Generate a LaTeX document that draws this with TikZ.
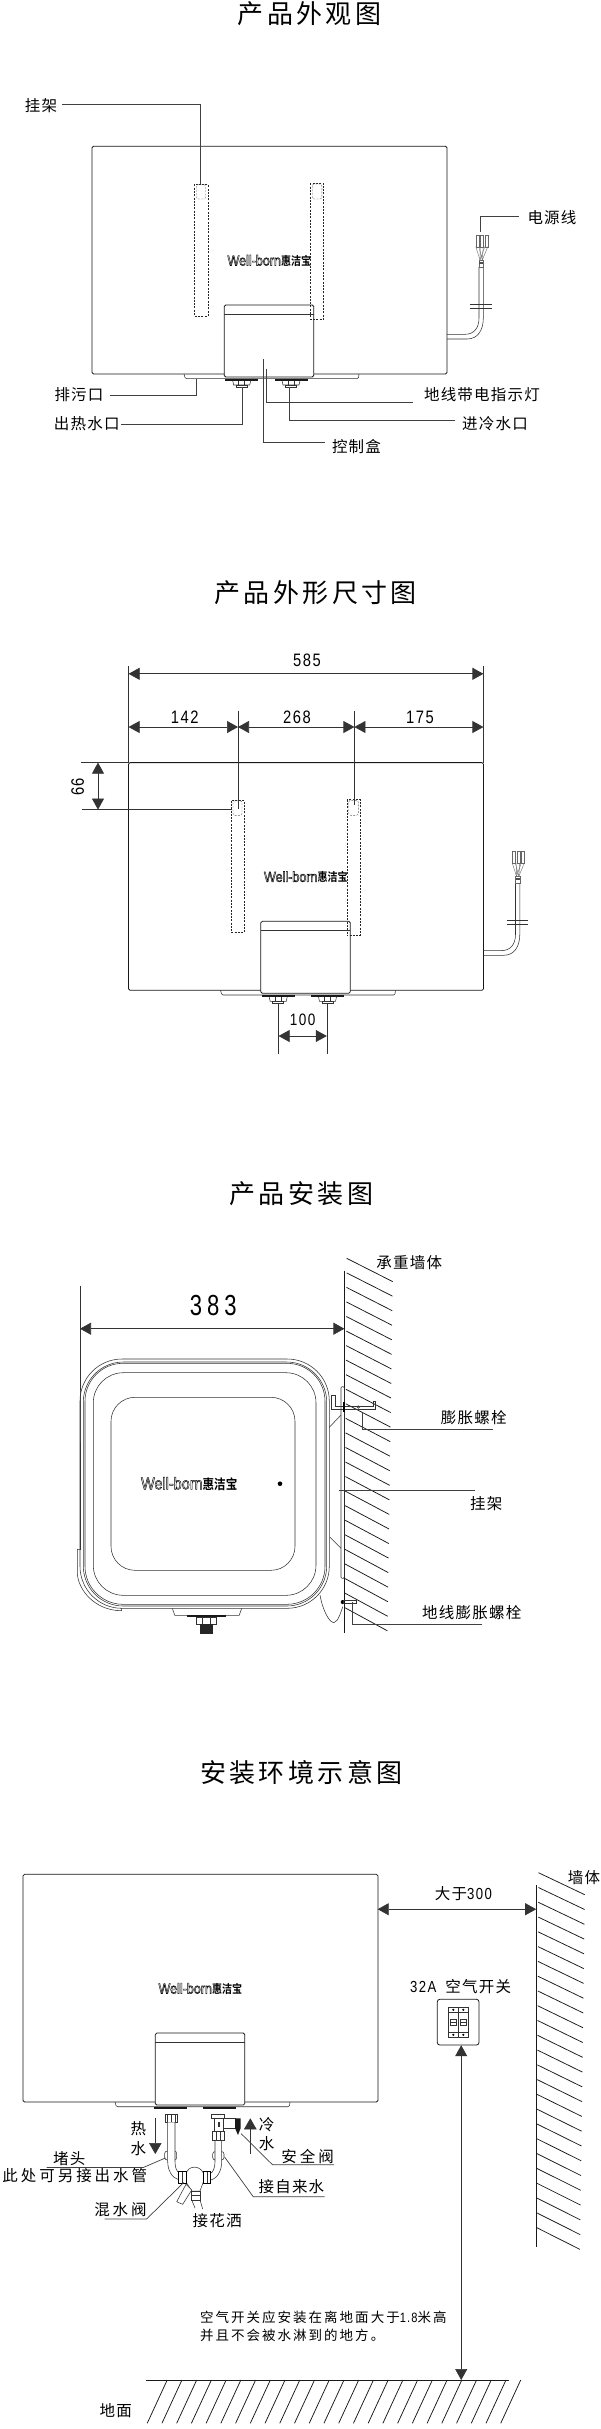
\documentclass[tikz,border=0pt]{standalone}
\usepackage{fontspec}
\usetikzlibrary{arrows.meta}
\setmainfont{Noto Sans CJK SC}
\newfontfamily\ttlf[LetterSpace=13]{Noto Sans CJK SC}
\newfontfamily\lblf[LetterSpace=8]{Noto Sans CJK SC}
\newfontfamily\widef[LetterSpace=19]{Noto Sans CJK SC}
\newfontfamily\notef[LetterSpace=15]{Noto Sans CJK SC}
\newfontfamily\numf[FakeStretch=0.82,LetterSpace=9]{Liberation Sans}
\newfontfamily\numw[FakeStretch=0.76,LetterSpace=17]{Liberation Sans}
\newfontfamily\logof[FakeStretch=0.86]{Liberation Sans}
\newfontfamily\logocn[FakeStretch=0.85]{Noto Sans CJK SC Bold}
\newcommand\logotxt[2]{{\fontsize{#1}{#1}\logof\special{pdf:code 1 Tr 0.45 w}Well-born\special{pdf:code 0 Tr}}{\fontsize{#2}{#2}\logocn 惠洁宝}}
\tikzset{
 ttl/.style={inner sep=0,font=\ttlf\fontsize{26}{26}\selectfont},
 lbl/.style={inner sep=0,font=\lblf\fontsize{15.5}{15.5}\selectfont},
 widelbl/.style={inner sep=0,font=\widef\fontsize{15.5}{15.5}\selectfont},
 notetxt/.style={inner sep=0,anchor=west,font=\notef\fontsize{13.5}{13.5}\selectfont},
 num/.style={inner sep=0,font=\numf\fontsize{18}{18}\selectfont},
 body/.style={line width=.8,black!90},
 thin/.style={line width=.55,black!80},
 faint/.style={line width=.4,black!60},
 lead/.style={line width=.7,black!75},
 dim/.style={line width=.7,black!80,{Triangle[length=11pt,width=12pt]}-{Triangle[length=11pt,width=12pt]}},
 hat/.style={line width=.75,black!90},
 dsh/.style={line width=.55,black!85,dash pattern=on 2pt off 1.3pt},
}
% tank front view, drawn in the coordinates of the first view
\newcommand\tankcore[2]{
 \draw[body,rounded corners=1.5] (92,146.3) rectangle (447,374);
 \draw[thin] (184,374) -- (185,377.5) -- (186.5,378.7) -- (357,378.7) -- (358.5,377.5) -- (359,374);
 \draw[body,fill=white,rounded corners=1.5] (224.3,305) rectangle (313.8,377);
 \draw[thin] (224.3,314.3) -- (313.8,314.3);
 \node[inner sep=0] (logo#1) at (269.3,260.8) {\logotxt{14.6}{11.8}};
 \foreach \c in {241.7,291}{
  \fill[black!90] (\c-16.5+#2,378.7) rectangle (\c+16.5+#2,380.7);
 }
}
\newcommand\tanknuts{
 \foreach \c in {241.7,291}{
  \draw[thin] (\c-9,380.7) -- (\c-8,385) -- (\c+8,385) -- (\c+9,380.7);
  \draw[thin] (\c-5.5,385) rectangle (\c+5.5,387.3);
  \draw[thin] (\c-3,380.7) -- (\c-3,385) (\c+3,380.7) -- (\c+3,385);
 }
}
\newcommand\tankbrackets{
 \draw[dsh] (194.4,184.3) rectangle (207.8,316);
 \draw[faint,dash pattern=on 2pt off 1.3pt,rounded corners=2] (196.5,184.5) rectangle (205.5,199);
 \draw[dsh] (310.4,183.3) rectangle (323.4,319.3);
 \draw[faint,dash pattern=on 2pt off 1.3pt,rounded corners=2] (312.2,184) rectangle (321.8,199);
}
\newcommand\tankcable{
 \draw[thin] (447,334.3) -- (465,334.3) .. controls (474,334.3) and (479,328) .. (479,318) -- (479,267);
 \draw[thin] (447,339) -- (467,339) .. controls (478,339) and (483.3,330) .. (483.3,318) -- (483.3,267);
 \draw[thin] (470,304) -- (491.7,304) (470,308.3) -- (491.7,308.3);
 \draw[faint] (479,260) rectangle (483.3,267);
 \fill[black!70] (479,262) rectangle (483.3,264);
 \foreach \p in {475.8,480.3,484.8}{
  \draw[faint] (\p,235) rectangle (\p+3,246.7);
  \draw[faint] (\p,246.7) -- (480,260) (\p+3,246.7) -- (482.3,260);
 }
}
\begin{document}
\begin{tikzpicture}[x=1pt,y=-1pt]
\useasboundingbox (0,0) rectangle (600,2429);
\fill[white] (0,0) rectangle (600,2429);

%% ---------- view 1
\node[ttl] (t1) at (309.5,14) {产品外观图};
\begin{scope}
 \tankcore{a}{0}\tanknuts\tankbrackets\tankcable
\end{scope}
\node[lbl] (la) at (41,105.5) {挂架};
\node[lbl] (lb) at (552,217.5) {电源线};
\node[lbl] (lc) at (79,394.5) {排污口};
\node[lbl] (ld) at (86.7,424) {出热水口};
\node[lbl] (le) at (482,395) {地线带电指示灯};
\node[lbl] (lf) at (495,424) {进冷水口};
\node[lbl] (lg) at (356.5,446.5) {控制盒};
\coordinate (la1) at (62,104);      \coordinate (la2) at (200.5,184.3);
\coordinate (lb1) at (518.6,216);   \coordinate (lb2) at (480.3,231.7);
\coordinate (lc1) at (109.5,395.7); \coordinate (lc2) at (196.3,378.7);
\coordinate (ld1) at (121,424);     \coordinate (ld2) at (242.6,386.7);
\coordinate (le1) at (413,402.3);   \coordinate (le2) at (266.3,369.3);
\coordinate (lf1) at (455.4,420.7); \coordinate (lf2) at (289.7,386.7);
\coordinate (lg1) at (324.5,442.7); \coordinate (lg2) at (263,359.3);
\foreach \n in {la,lb,lc,ld,le,lf,lg}{\draw[lead] (\n1) -| (\n2);}

%% ---------- view 2
\node[ttl] (t2) at (315.7,593) {产品外形尺寸图};
\begin{scope}[shift={(36.5,616.3)}]
 \tankcore{b}{0}\tanknuts\tankbrackets\tankcable
\end{scope}
\coordinate (dl) at (128.6,673.8); \coordinate (dr) at (483.4,673.8);
\coordinate (m0) at (128.6,727); \coordinate (m1) at (238,727); \coordinate (m2) at (354.4,727); \coordinate (m3) at (483.4,727);
\draw[thin] (128.6,666) -- (128.6,762.6) (483.4,666) -- (483.4,762.6);
\draw[dim] (dl) -- (dr);
\draw[dim] (m0) -- (m1);
\draw[dim] (m1) -- (m2);
\draw[dim] (m2) -- (m3);
\draw[thin] (238,710.6) -- (238,808.9) (354.4,711) -- (354.4,805);
\draw[thin] (81,762.6) -- (128.6,762.6) (82.3,809.6) -- (231.5,809.6);
\coordinate (v1) at (98,762.6); \coordinate (v2) at (98,809.6);
\draw[dim] (v1) -- (v2);
\coordinate (h1) at (278.6,1036); \coordinate (h2) at (326.8,1036);
\draw[thin] (278.6,1004) -- (278.6,1054.4) (326.8,1004) -- (326.8,1054.4);
\draw[dim] (h1) -- (h2);
\node[num] (n585) at (307,660) {585};
\node[num] (n142) at (184.7,717) {142};
\node[num] (n268) at (297,717) {268};
\node[num] (n175) at (420,717) {175};
\node[num,rotate=90] (n66) at (77.7,786.8) {66};
\node[num,font=\numf\fontsize{16.5}{16.5}\selectfont] (n100) at (302.7,1020) {100};

%% ---------- view 3
\node[ttl] (t3) at (301.4,1194) {产品安装图};
\draw[hat] (344.4,1270.7) -- (344.4,1633.3);
\foreach \i in {0,...,24}{
 \pgfmathsetmacro\ya{1258.3+14.55*\i}
 \pgfmathsetmacro\xa{346.7-0.09*\i}
 \pgfmathsetmacro\xb{392.7-0.22*\i}
 \draw[hat] (\xa,\ya) -- (\xb,\ya+23.3);
}
\node[lbl] (w3) at (409.3,1263) {承重墙体};
\node[num,font=\numw\fontsize{29}{29}\selectfont] (n383) at (213.3,1305.3) {383};
\coordinate (s1) at (80,1328.7); \coordinate (s2) at (344.4,1328.7);
\draw[dim] (s1) -- (s2);
\draw[thin] (80,1285.7) -- (80,1390);
\draw[line width=1,black!70] (80,1390) -- (80,1443);
\draw[thin] (80,1443) -- (80,1550);
\draw[thin,rounded corners=42] (80,1359) rectangle (329.3,1608.3);
\draw[thin,rounded corners=40] (83.3,1362) rectangle (326.7,1606);
\draw[thin,rounded corners=38] (85,1363.3) rectangle (325,1604.3);
\draw[thin,rounded corners=30] (93.3,1372.7) rectangle (316,1595.3);
\draw[thin,rounded corners=24] (111,1397.3) rectangle (295,1570.3);
\node[inner sep=0] (logoc) at (189.2,1483.8) {\logotxt{16.8}{13.6}};
\fill[black] (280,1483.7) circle[radius=2.3];
\draw[thin] (80,1549.3) -- (77.3,1549.3) -- (77.3,1573) .. controls (78,1590) and (95,1610.7) .. (121.7,1610.7) -- (121.7,1608);
\draw[thin] (172.3,1608.3) -- (174.8,1615.3) -- (239.2,1615.3) -- (241.7,1608.3);
\fill[black!90] (187.3,1615.3) rectangle (225.7,1617.3);
\draw[thin] (196,1617.3) rectangle (216,1624);
\draw[thin] (202,1617.3) -- (202,1624) (210,1617.3) -- (210,1624);
\fill[black!85] (200,1624) rectangle (212.7,1634);
\draw[thin,rounded corners=1] (341,1386.7) rectangle (344.3,1578.3);
\draw[thin] (329.3,1427.3) -- (341,1415) (330,1537.3) -- (341,1548.3);
\draw[thin] (331.7,1395) -- (331.7,1409.3) -- (375,1409.3) -- (375,1401.7) -- (373.3,1401.7) -- (373.3,1406) -- (335,1406) -- (335,1395) -- cycle;
\draw[thin] (358.3,1407) circle[radius=1.3];
\fill[black] (343,1401.7) rectangle (345,1411.7);
\fill[black] (342.7,1602) circle[radius=2];
\draw[thin] (343,1600.5) rectangle (356.7,1603.5);
\draw[thin] (320,1595) .. controls (323,1612) and (330,1623) .. (334,1622.5) .. controls (338,1622) and (341,1612) .. (342.7,1606.7);
\node[lbl] (p1) at (473.7,1418) {膨胀螺栓};
\node[lbl] (p2) at (486.3,1504) {挂架};
\node[lbl] (p3) at (471.7,1612.5) {地线膨胀螺栓};
\coordinate (p1a) at (492.5,1429.3); \coordinate (p1b) at (362.7,1411.7);
\coordinate (p2a) at (475.3,1490);   \coordinate (p2b) at (338.7,1490);
\coordinate (p3a) at (482.2,1624.3); \coordinate (p3b) at (352,1601.7);
\draw[lead] (p1a) -| (p1b);
\draw[lead] (p2a) -- (p2b);
\draw[lead] (p3a) -| (p3b);

%% ---------- view 4
\node[ttl] (t4) at (301.4,1773) {安装环境示意图};
\begin{scope}[shift={(-69,1728)}]
 \tankcore{d}{-2.5}
\end{scope}
\draw[hat] (536.2,1885) -- (536.2,2247);
\foreach \i in {0,...,24}{
 \pgfmathsetmacro\ya{1872.7+14.78*\i}
 \pgfmathsetmacro\xa{538.5-0.09*\i}
 \pgfmathsetmacro\xb{584.8-0.2*\i}
 \draw[hat] (\xa,\ya) -- (\xb,\ya+22);
}
\node[lbl] (w4) at (584,1877.7) {墙体};
\coordinate (q1) at (377.7,1909.2); \coordinate (q2) at (536.2,1909.2);
\draw[dim] (q1) -- (q2);
\node[inner sep=0,font=\lblf\fontsize{15.5}{15.5}\selectfont] (q3) at (463.5,1893.2) {大于{\numf\fontsize{16}{16}\selectfont 300}};
\node[inner sep=0,font=\lblf\fontsize{15.5}{15.5}\selectfont] (q4) at (460.7,1987) {{\numf\fontsize{16}{16}\selectfont 32A}\hspace{9pt}空气开关};
\draw[line width=.8,black!90,rounded corners=2.5] (437.3,1999.3) rectangle (479,2045);
\draw[thin] (448.3,2007.3) rectangle (458.3,2037.3) (458.3,2007.3) rectangle (468.3,2037.3);
\draw[thin] (448.3,2012.3) -- (468.3,2012.3) (448.3,2032.3) -- (468.3,2032.3);
\foreach \c in {453.3,463.3}{
 \fill[black] (\c,2009.8) circle[radius=1.2] (\c,2034.8) circle[radius=1.2];
 \draw[thin] (\c-3,2019) rectangle (\c+3,2025.7) (\c-3,2022.3) -- (\c+3,2022.3);
}
\coordinate (g1) at (461.2,2045.2); \coordinate (g2) at (461.2,2380);
\draw[dim] (g1) -- (g2);
\node[notetxt] (nt1) at (199.8,2317.5) {空气开关应安装在离地面大于{\numf\fontsize{13.5}{13.5}\selectfont 1.8}米高};
\node[notetxt] (nt2) at (199.8,2335.2) {并且不会被水淋到的地方。};
\draw[hat] (146.2,2380) -- (509,2380);
\foreach \i in {0,...,24}{
 \pgfmathsetmacro\xa{167.2+14.73*\i}
 \draw[hat] (\xa,2380) -- (\xa-20,2423.3);
}
\node[lbl] (gd) at (115.8,2411) {地面};

% pipes
\draw[thin,fill=white] (165,2114.3) rectangle (177.3,2122.3);
\draw[thin] (167.5,2114.3) -- (167.5,2122.3) (171.2,2114.3) -- (171.2,2122.3) (175,2114.3) -- (175,2122.3);
\draw[thin,fill=white,rounded corners=2.5] (164.7,2151) rectangle (176.7,2160);
\draw[thin,fill=white] (167.7,2122.3) -- (167.7,2161.7) .. controls (167.7,2170) and (172,2178) .. (178.3,2179.5) -- (179.3,2172.7) .. controls (177,2172) and (175,2168) .. (175,2161.7) -- (175,2122.3);
\draw[thin,fill=white,rounded corners=2.5] (212.7,2151.5) rectangle (224,2160);
\draw[thin,fill=white] (215,2140) -- (215,2161.7) .. controls (215,2168) and (213,2172) .. (210.7,2173.3) -- (210.7,2180) .. controls (218,2178) and (221.7,2170) .. (221.7,2161.7) -- (221.7,2140);
\draw[thin,fill=white] (211.7,2114.3) rectangle (224,2118.3);
\draw[thin,fill=white] (214,2118.3) rectangle (223,2131.7);
\fill[black!80] (217.5,2122) rectangle (219.5,2127);
\draw[thin,fill=white] (212.7,2131.7) rectangle (224,2140);
\draw[thin] (216.5,2131.7) -- (216.5,2140) (220.5,2131.7) -- (220.5,2140);
\draw[thin,fill=white] (223,2118.3) rectangle (235,2128.3);
\fill[black!90] (235,2118.3) -- (240.7,2118.3) -- (240.7,2128) -- (238,2135) -- (235,2128) -- cycle;
% mixing valve: arched top, body tapering to the outlet
\draw[thin,fill=white] (186,2174) .. controls (188,2165) and (200,2165) .. (203.3,2173) -- (203.3,2182) -- (200,2191) -- (191.7,2191) -- (186.7,2183) -- cycle;
\draw[thin,fill=white] (186,2184.3) -- (176.7,2201.7) -- (182.7,2204.3) -- (191.7,2190) -- cycle;
\draw[thin,fill=white] (191.7,2191) rectangle (200,2200);
\draw[thin] (191.7,2195.5) -- (200,2195.5);
\draw[thin] (191.7,2200) -- (195,2208) (200,2200) -- (202.7,2209);
\draw[line width=1,fill=white] (178.3,2171.7) rectangle (186,2183.3);
\draw[thin] (182,2171.7) -- (182,2183.3);
\draw[line width=1,fill=white] (203.3,2171.7) rectangle (210.7,2183.3);
\draw[thin] (207,2171.7) -- (207,2183.3);
% flow arrows
\coordinate (ha) at (155.3,2118.3); \coordinate (hb) at (155.3,2154);
\draw[thin,-{Triangle[length=11pt,width=12.5pt]}] (ha) -- (hb);
\coordinate (ca) at (250.3,2154); \coordinate (cb) at (250.3,2118.3);
\draw[thin,-{Triangle[length=11pt,width=12.5pt]}] (ca) -- (cb);
\node[lbl] (re) at (138.3,2129) {热};
\node[lbl] (shu1) at (138.3,2148.3) {水};
\node[lbl] (le4) at (266.7,2125) {冷};
\node[lbl] (shu2) at (266.7,2144) {水};
\node[widelbl] (aq) at (307.6,2156) {安全阀};
\node[lbl] (js) at (291.4,2186.5) {接自来水};
\node[lbl] (hs) at (217.2,2220.4) {接花洒};
\node[widelbl] (hf) at (120.5,2210) {混水阀};
\node[lbl] (dt) at (69.2,2159) {堵头};
\node[widelbl] (cc) at (74.8,2176) {此处可另接出水管};
\coordinate (u1a) at (334,2164.7);  \coordinate (u1b) at (272.5,2164.7); \coordinate (u1c) at (241,2133.5);
\coordinate (u2a) at (324.5,2196.8);\coordinate (u2b) at (253.3,2196.8); \coordinate (u2c) at (224.6,2157);
\coordinate (u3a) at (104.5,2219);  \coordinate (u3b) at (146.6,2219);   \coordinate (u3c) at (183.7,2182.5);
\coordinate (u4a) at (46.7,2167.4); \coordinate (u4b) at (143.5,2167.4); \coordinate (u4c) at (165.3,2158);
\foreach \n in {u1,u2,u3,u4}{\draw[lead] (\n a) -- (\n b) -- (\n c);}
\end{tikzpicture}
\end{document}
